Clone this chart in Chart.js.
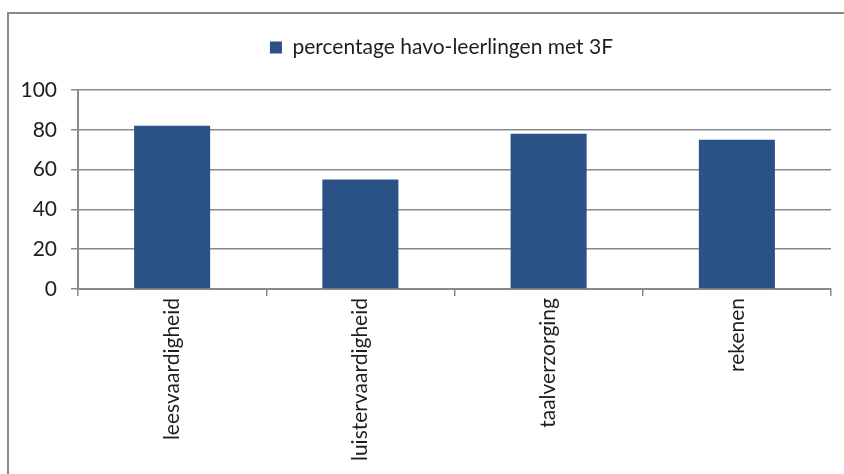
<!DOCTYPE html>
<html>
<head>
<meta charset="utf-8">
<script src="https://cdn.jsdelivr.net/npm/chart.js@4/dist/chart.umd.min.js"></script>
<style>
  body { margin: 0; background: #fff; }
  #wrap { position: relative; width: 844px; height: 474px; overflow: hidden; }
  #kader { position: absolute; left: 7px; top: 12px; width: 900px; height: 500px; border: 2px solid #8a8a8a; }
  canvas { position: absolute; left: 0; top: 0; }
</style>
</head>
<body>
<div id="wrap">
  <div id="kader"></div>
  <canvas id="graf" width="844" height="474"></canvas>
</div>
<script>
// gegevens
const categorieen = ['leesvaardigheid', 'luistervaardigheid', 'taalverzorging', 'rekenen']
const percentages = [82, 55, 78, 75]
const reeksNaam = 'percentage havo-leerlingen met 3F'

let ctx = document.getElementById('graf').getContext('2d')

Chart.defaults.font.family = 'Lato, "Open Sans", sans-serif'
Chart.defaults.font.size = 21
Chart.defaults.color = '#1e1e1e'

// extra ruimte onder de legenda, en legenda iets naar rechts
const legendaRuimte = {
    id: 'legendaRuimte',
    beforeInit(chart) {
        const lg = chart.legend
        const fit = lg.fit
        lg.fit = function () {
            fit.bind(lg)()
            this.height += 22
        }
        const draw = lg.draw
        lg.draw = function () {
            const c = this.ctx
            c.save()
            c.translate(26, 0)
            draw.bind(lg)()
            c.restore()
        }
    }
}

const data = {
    labels: categorieen,
    datasets: [{
        label: reeksNaam,
        data: percentages,
        backgroundColor: '#2a5287',
        borderWidth: 0,
        barPercentage: 0.404,
        categoryPercentage: 1
    }]
}

const config = {
    type: 'bar',
    data: data,
    options: {
        responsive: false,
        animation: false,
        layout: { padding: { top: 33, right: 13, left: 0, bottom: 0 } },
        plugins: {
            legend: {
                display: true,
                labels: { boxWidth: 12, boxHeight: 12, padding: 4, color: '#1e1e1e' }
            },
            tooltip: { enabled: false }
        },
        scales: {
            x: {
                grid: {
                    display: true,
                    offset: true,
                    drawOnChartArea: false,
                    tickLength: 7,
                    color: '#8a8a8a',
                    lineWidth: 1.5
                },
                border: { color: '#8a8a8a', width: 2 },
                ticks: { maxRotation: 90, minRotation: 90, padding: 2 },
                afterFit: (s) => { s.height = 185 }
            },
            y: {
                min: 0,
                max: 100,
                ticks: { stepSize: 20, padding: 14 },
                grid: { color: '#8a8a8a', lineWidth: 1.5, tickLength: 7 },
                border: { color: '#8a8a8a', width: 2 },
                afterFit: (s) => { s.width = 78 }
            }
        }
    },
    plugins: [legendaRuimte]
}

const grafiek = new Chart(ctx, config)
</script>
</body>
</html>
